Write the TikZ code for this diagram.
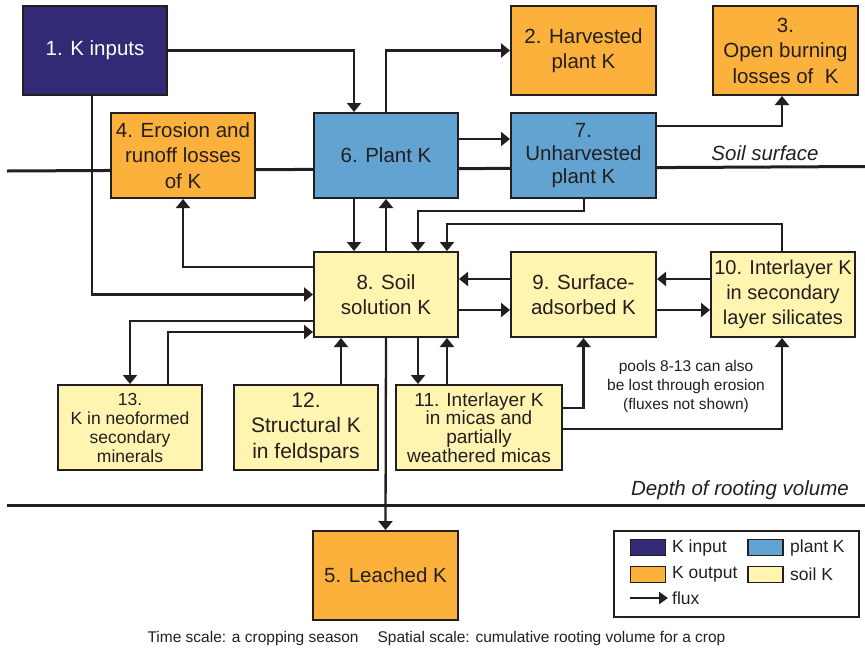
\documentclass[tikz,border=0pt]{standalone}
\usepackage{fontspec}
\setmainfont{Liberation Sans}
\usetikzlibrary{arrows.meta,calc}
\definecolor{kin}{RGB}{50,42,116}
\definecolor{kout}{RGB}{251,177,59}
\definecolor{kplant}{RGB}{99,163,210}
\definecolor{ksoil}{RGB}{255,245,176}
\definecolor{ink}{RGB}{35,31,32}
\begin{document}
\begin{tikzpicture}[x=1pt,y=-1pt,
  pool/.style={draw=ink, line width=2pt, minimum width=144pt, minimum height=85pt,
    inner sep=0pt, align=center, text=ink, font=\fontsize{20.5}{25.5}\selectfont},
  inpool/.style={pool, fill=kin, text=white, minimum height=89pt},
  outpool/.style={pool, fill=kout},
  plantpool/.style={pool, fill=kplant},
  soilpool/.style={pool, fill=ksoil},
  smalltext/.style={font=\fontsize{17.5}{19}\selectfont},
  flux/.style={draw=ink, line width=2.3pt, -{Triangle[length=9pt,width=14pt]}},
  ground/.style={draw=ink, line width=3pt},
  label/.style={text=ink, inner sep=0pt, font=\fontsize{20.5}{25}\selectfont\itshape},
  legtext/.style={text=ink, inner sep=0pt, anchor=west, font=\fontsize{17.5}{20}\selectfont},
  swatch/.style={draw=ink, line width=1.5pt, minimum width=35pt, minimum height=16pt, inner sep=0pt}
]
\useasboundingbox (0,0) rectangle (865,649);

% ground lines
\coordinate (sl) at (7,171);
\coordinate (sr) at (865,166.5);
\draw[ground] (sl) -- (sr);
\coordinate (dl) at (7,505);
\coordinate (dr) at (865,505);
\draw[ground] (dl) -- (dr);

% pools
\node[inpool] (n1) at (95,50.5) {1. K inputs};
\node[outpool, minimum width=145pt, minimum height=89pt] (n2) at (583.5,50.5) {2. Harvested\\plant K};
\node[outpool, minimum width=145pt, minimum height=89pt] (n3) at (785.5,50.5) {3.\\Open burning\\losses of\ \ K};
\node[outpool] (n4) at (183,155.5) {4. Erosion and\\runoff losses\\of K};
\node[plantpool] (n6) at (386,155.5) {6. Plant K};
\node[plantpool, minimum width=145pt, font=\fontsize{20.5}{23}\selectfont] (n7) at (583.5,155.5) {7.\\Unharvested\\plant K};
\node[soilpool] (n8) at (386,294.5) {8. Soil\\solution K};
\node[soilpool, minimum width=145pt] (n9) at (583.5,294.5) {9. Surface-\\adsorbed K};
\node[soilpool, font=\fontsize{20}{25}\selectfont] (n10) at (783,294.5) {10. Interlayer K\\in secondary\\layer silicates};
\node[soilpool, minimum width=166pt, font=\fontsize{19}{18.7}\selectfont] (n11) at (479,427.5) {11. Interlayer K\\in micas and\\partially\\weathered micas};
\node[soilpool, font=\fontsize{21}{25.5}\selectfont] (n12) at (306,427.5) {12.\\Structural K\\in feldspars};
\node[soilpool, smalltext] (n13) at (130,427.5) {13.\\K in neoformed\\secondary\\minerals};
\node[outpool, minimum width=145pt, minimum height=89pt] (n5) at (385.5,575.5) {5. Leached K};

% fluxes
\draw[flux] (n1.east) -| ($(n6.north)+(-32,0)$);
\draw[flux] (n6.north) |- (n2.west);
\draw[flux] ($(n7.east)+(0,-29.5)$) -| ($(n3.south)+(-3.5,0)$);
\draw[flux] ($(n6.east)+(0,-16.5)$) -- ($(n7.west)+(0,-16.5)$);
\draw[flux] ($(n7.south)+(0.5,0)$) -- ++(0,12) -| ($(n8.north)+(32,0)$);
\draw[flux] ($(n1.south)+(-3,0)$) |- (n8.west);
\draw[flux] ($(n8.west)+(0,-27.5)$) -| (n4.south);
\draw[flux] ($(n6.south)+(-32,0)$) -- ($(n8.north)+(-32,0)$);
\draw[flux] (n8.north) -- (n6.south);
\draw[flux] ($(n10.north)+(-1,0)$) -- ++(0,-27) -| ($(n8.north)+(61,0)$);
\draw[flux] ($(n9.west)+(0,-15.5)$) -- ($(n8.east)+(0,-15.5)$);
\draw[flux] ($(n8.east)+(0,15.5)$) -- ($(n9.west)+(0,15.5)$);
\draw[flux] ($(n10.west)+(0,-15.5)$) -- ($(n9.east)+(0,-15.5)$);
\draw[flux] ($(n9.east)+(0,15.5)$) -- ($(n10.west)+(0,15.5)$);
\coordinate (p811) at ($(n8.south)+(32,0)$);
\draw[flux] (p811) -- (p811 |- n11.north);
\coordinate (p118) at ($(n8.south)+(61,0)$);
\draw[flux] (p118 |- n11.north) -- (p118);
\draw[flux] ($(n11.east)+(0,-19.5)$) -| (n9.south);
\draw[flux] ($(n11.east)+(0,1.5)$) -| ($(n10.south)+(-1,0)$);
\draw[flux] ($(n8.west)+(0,26.5)$) -| (n13.north);
\draw[flux] ($(n13.north)+(38,0)$) |- ($(n8.west)+(0,37.5)$);
\coordinate (p128) at ($(n12.north)+(35,0)$);
\draw[flux] (p128) -- (p128 |- n8.south);
\draw[flux] (n8.south) -- (n5.north);

% labels
\node[label] (ss) at (765,153) {Soil surface};
\node[label, anchor=east] (drv) at (849,490) {Depth of rooting volume};
\node[text=ink, align=center, inner sep=0pt, font=\fontsize{15.5}{19}\selectfont] (pools) at (686,386)
  {pools 8-13 can also\\be lost through erosion\\(fluxes not shown)};
\node[text=ink, inner sep=0pt, font=\fontsize{15.5}{18}\selectfont] (cap) at (436.5,638)
  {Time scale: a cropping season\hspace{19pt}Spatial scale: cumulative rooting volume for a crop};

% legend
\node[draw=ink, line width=2pt, minimum width=245pt, minimum height=86pt, inner sep=0pt] (leg) at (736.5,574) {};
\node[swatch, fill=kin] (s1) at (648,547.5) {};
\node[legtext] (t1) at (672,548) {K input};
\node[swatch, fill=kplant] (s2) at (765.5,547.5) {};
\node[legtext] (t2) at (790,548) {plant K};
\node[swatch, fill=kout] (s3) at (648,574.5) {};
\node[legtext] (t3) at (672,574) {K output};
\node[swatch, fill=ksoil] (s4) at (765.5,574.5) {};
\node[legtext] (t4) at (790,574) {soil K};
\coordinate (fa) at (630,598);
\node[legtext] (t5) at (672,598) {flux};
\draw[draw=ink, line width=2.3pt, -{Triangle[length=9pt,width=12pt]}] (fa) -- ($(t5.west)+(-4,0)$);
\end{tikzpicture}
\end{document}
